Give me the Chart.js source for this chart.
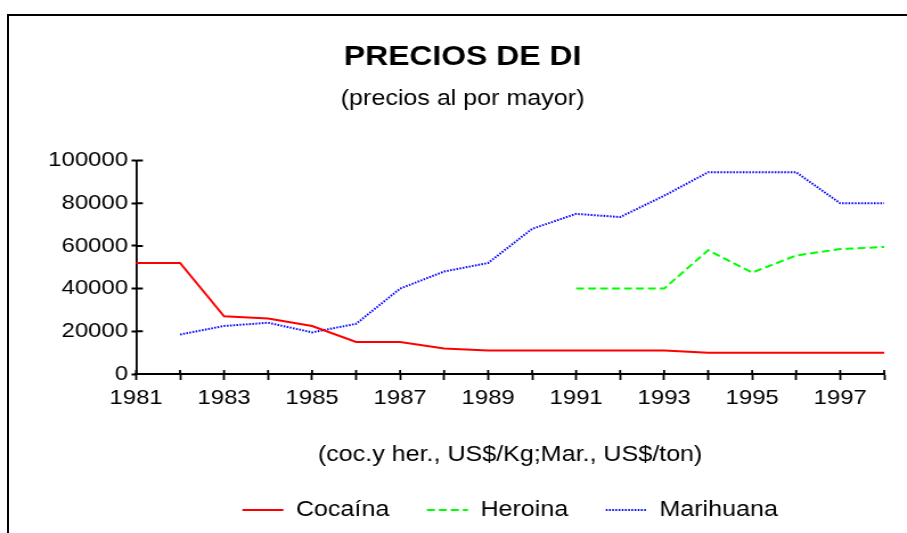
<!DOCTYPE html>
<html lang="es">
<head>
<meta charset="utf-8">
<title>Precios de DI</title>
<script src="https://cdn.jsdelivr.net/npm/chart.js@4/dist/chart.umd.min.js"></script>
<style>
  html, body { margin: 0; padding: 0; background: #fff; overflow: hidden; }
  body { width: 907px; height: 533px; position: relative; }
  /* marco del grafico (se corta a la derecha y abajo como en el original) */
  #marco { position: absolute; left: 7px; top: 14px; width: 960px; height: 600px; border: 2px solid #000; }
  /* el original esta estirado en horizontal: se dibuja a 796px y se escala */
  #wrap { position: absolute; left: 0; top: 0; width: 796px; height: 533px; transform: scaleX(1.1394); transform-origin: 0 0; }
</style>
</head>
<body>
<div id="marco"></div>
<div id="wrap"><canvas id="chartPrecios"></canvas></div>
<script>
// DATOS
const anios = ['1981', '1982', '1983', '1984', '1985', '1986', '1987', '1988', '1989',
               '1990', '1991', '1992', '1993', '1994', '1995', '1996', '1997', '1998'];
const cocaina = [52000, 52000, 27000, 26000, 22500, 15000, 15000, 12000, 11000,
                 11000, 11000, 11000, 11000, 10000, 10000, 10000, 10000, 10000];
const heroina = [null, null, null, null, null, null, null, null, null,
                 null, 40000, 40000, 40000, 58000, 47500, 55500, 58500, 59500];
const marihuana = [null, 18500, 22500, 24000, 19500, 23500, 40000, 48000, 52000,
                   68000, 75000, 73500, 83500, 94500, 94500, 94500, 80000, 80000];
const ticksY = [0, 20000, 40000, 60000, 80000, 100000];
const etiquetasX = ['1981', '', '1983', '', '1985', '', '1987', '', '1989',
                    '', '1991', '', '1993', '', '1995', '', '1997', ''];

(function() {
  'use strict';

  Chart.defaults.font.family = "'Liberation Sans', Arial, sans-serif";
  Chart.defaults.color = '#000';

  // marcas de eje que cruzan hacia dentro del area
  const marcasInternas = {
    id: 'marcasInternas',
    beforeDatasetsDraw(chart) {
      const { ctx, chartArea, scales: { x, y } } = chart;
      ctx.save();
      ctx.strokeStyle = '#000';
      ctx.lineWidth = 1.8;
      ctx.beginPath();
      x.ticks.forEach((t, i) => {
        const px = x.getPixelForTick(i);
        ctx.moveTo(px, chartArea.bottom);
        ctx.lineTo(px, chartArea.bottom - 4);
      });
      ctx.stroke();
      ctx.lineWidth = 2;
      ctx.beginPath();
      y.ticks.forEach((t, i) => {
        const py = y.getPixelForTick(i);
        ctx.moveTo(chartArea.left, py);
        ctx.lineTo(chartArea.left + 6, py);
      });
      ctx.stroke();
      ctx.restore();
    }
  };

  // leyenda centrada bajo el area de trazado
  const centrarLeyenda = {
    id: 'centrarLeyenda',
    afterLayout(chart) {
      if (chart.legend) {
        chart.legend.left = chart.chartArea.left;
        chart.legend.right = chart.chartArea.right;
      }
    }
  };

  function serie(label, data, color, dash) {
    return {
      label: label,
      data: data,
      borderColor: color,
      backgroundColor: color,
      borderWidth: 2,
      borderDash: dash,
      pointRadius: 0,
      pointHoverRadius: 0,
      tension: 0,
      fill: false,
      spanGaps: false
    };
  }

  new Chart(document.getElementById('chartPrecios'), {
    type: 'line',
    data: {
      labels: anios,
      datasets: [
        serie('Cocaína', cocaina, '#ff0000', []),
        serie('Heroina', heroina, '#00ff00', [7, 3.5]),
        serie('Marihuana', marihuana, '#0000ff', [1.5, 1.3])
      ]
    },
    options: {
      responsive: true,
      maintainAspectRatio: false,
      animation: false,
      devicePixelRatio: 1,
      events: [],
      layout: { padding: { left: 36, right: 20, top: 0, bottom: 2 } },
      plugins: {
        title: {
          display: true,
          text: 'PRECIOS DE DI',
          font: { size: 28, weight: 'bold' },
          padding: { top: 40, bottom: 12 }
        },
        subtitle: {
          display: true,
          text: '(precios al por mayor)',
          font: { size: 22 },
          padding: { top: 0, bottom: 48.5 }
        },
        legend: {
          position: 'bottom',
          labels: {
            usePointStyle: true,
            pointStyle: 'line',
            pointStyleWidth: 36,
            font: { size: 22 },
            padding: 33,
            // el estilo de punto no trae el trazo discontinuo de la serie
            generateLabels: chart => {
              const items = Chart.defaults.plugins.legend.labels.generateLabels(chart);
              items.forEach(it => {
                it.lineDash = chart.data.datasets[it.datasetIndex].borderDash;
                it.lineWidth = 2;
              });
              return items;
            }
          }
        },
        tooltip: { enabled: false }
      },
      scales: {
        x: {
          offset: false,
          grid: { drawOnChartArea: false, tickLength: 6, tickWidth: 1.8, tickColor: '#000' },
          border: { color: '#000', width: 2 },
          ticks: {
            autoSkip: false,
            maxRotation: 0,
            padding: 6,
            font: { size: 21 },
            callback: (v, i) => etiquetasX[i]
          },
          title: {
            display: true,
            text: '(coc.y her., US$/Kg;Mar., US$/ton)',
            font: { size: 22, lineHeight: 1 },
            padding: { top: 26.8, bottom: 0 }
          }
        },
        y: {
          min: 0,
          max: 100000,
          afterBuildTicks: s => { s.ticks = ticksY.map(v => ({ value: v })); },
          afterFit: s => { s.width = 83.4; },
          grid: { drawOnChartArea: false, tickLength: 4, tickWidth: 2, tickColor: '#000' },
          border: { color: '#000', width: 1.8 },
          ticks: {
            padding: 3,
            font: { size: 21 },
            callback: v => String(v)
          }
        }
      }
    },
    plugins: [marcasInternas, centrarLeyenda]
  });
})();
</script>
</body>
</html>
